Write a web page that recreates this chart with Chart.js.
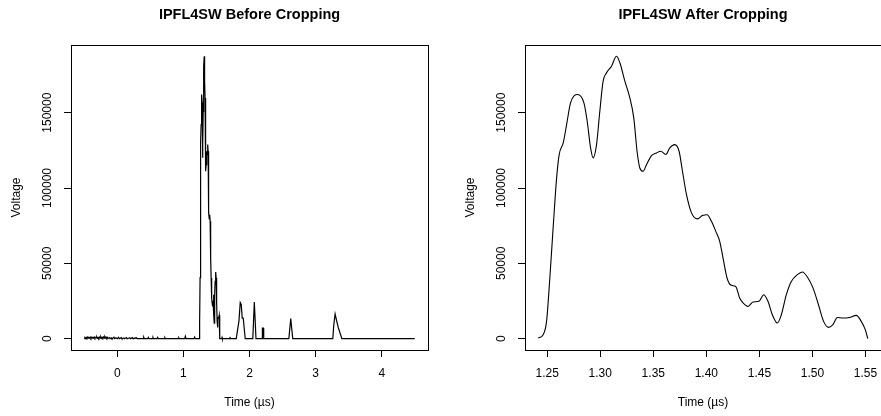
<!DOCTYPE html>
<html>
<head>
<meta charset="utf-8">
<title>IPFL4SW</title>
<script src="https://cdn.jsdelivr.net/npm/chart.js@4.4.0/dist/chart.umd.min.js"></script>
<style>
  body { margin: 0; background: #fff; }
  #wrap { position: relative; width: 881px; height: 416px; overflow: hidden; }
  canvas { position: absolute; top: 0; }
</style>
</head>
<body>
<div id="wrap">
  <canvas id="before" width="440" height="416" style="left:0"></canvas>
  <canvas id="after" width="441" height="416" style="left:440px"></canvas>
</div>
<script>
// Tick labels
const beforeTicksX = [0, 1, 2, 3, 4];
const afterTicksX = [1.25, 1.30, 1.35, 1.40, 1.45, 1.50, 1.55];
const voltTicks = [0, 50000, 100000, 150000];

// Noise before the pulse (time in µs, voltage)
const preTime = [-0.50, -0.49, -0.48, -0.47, -0.46, -0.45, -0.44, -0.43, -0.42, -0.41, -0.40, -0.39,
  -0.38, -0.37, -0.36, -0.35, -0.34, -0.33, -0.32, -0.31, -0.30, -0.29, -0.28, -0.27, -0.26, -0.25,
  -0.24, -0.23, -0.22, -0.21, -0.20, -0.19, -0.18, -0.17, -0.16, -0.15, -0.14, -0.12, -0.11, -0.09,
  -0.08, -0.05, -0.04, -0.02, 0.00, 0.02, 0.03, 0.06, 0.07, 0.10, 0.11, 0.14, 0.15, 0.19, 0.20,
  0.23, 0.24, 0.29, 0.30, 0.39, 0.40, 0.41, 0.46, 0.47, 0.48, 0.53, 0.54, 0.55, 0.60, 0.61, 0.62,
  0.71, 0.72, 0.73, 0.92, 0.93, 0.94, 1.02, 1.03, 1.04, 1.16, 1.17, 1.18, 1.24];
const preVolt = [0, 700, 200, 900, 300, 1000, 300, 800, 400, 1100, 200, 900,
  300, 800, 400, 1100, 300, 900, 500, 1200, 300, 800, 200, 1000, 400, 1300,
  300, 1000, 400, 1100, 300, 1300, 400, 1100, 300, 900, 200, 800, 0, 600,
  0, 1000, 0, 600, 0, 900, 0, 700, 0, 500, 0, 800, 0, 600, 0,
  700, 0, 600, 0, 0, 1000, 0, 0, 900, 0, 0, 900, 0, 0, 900, 0,
  0, 800, 0, 0, 700, 0, 0, 1600, 0, 0, 1100, 0, 0];

// Main pulse (the cropped window)
const pulseTime = [1.2415, 1.2462, 1.2494, 1.2525, 1.2556, 1.2589, 1.2613, 1.2651, 1.2683, 1.2720,
  1.2786, 1.2846, 1.2877, 1.2909, 1.2933, 1.2965, 1.2996, 1.3027, 1.3059, 1.3106, 1.3153, 1.3185,
  1.3232, 1.3279, 1.3316, 1.3347, 1.3373, 1.3404, 1.3436, 1.3483, 1.3530, 1.3571, 1.3618, 1.3655,
  1.3702, 1.3743, 1.3775, 1.3813, 1.3860, 1.3916, 1.3963, 1.4007, 1.4048, 1.4089, 1.4126, 1.4157,
  1.4195, 1.4236, 1.4277, 1.4314, 1.4346, 1.4393, 1.4440, 1.4496, 1.4541, 1.4581, 1.4622, 1.4669,
  1.4707, 1.4754, 1.4801, 1.4858, 1.4905, 1.4958, 1.5005, 1.5052, 1.5105, 1.5153, 1.5193, 1.5235,
  1.5287, 1.5350, 1.5413, 1.5460, 1.5498, 1.5522];
const pulseVolt = [500, 2700, 11500, 40500, 73700, 106900, 122200, 129900, 142100, 156500,
  162000, 156500, 144300, 126600, 120000, 128800, 150900, 170900, 176400, 180800, 187400, 183100,
  170900, 159800, 146500, 124400, 113300, 111100, 115500, 121500, 123300, 124400, 122200, 126600,
  128800, 124400, 111100, 95600, 83500, 79500, 81700, 82300, 77900, 71200, 64600, 53600,
  40300, 35400, 34700, 27000, 23700, 21400, 24400, 24800, 29200, 24800, 15900, 10400,
  15900, 29200, 38000, 42500, 44300, 40300, 33700, 23700, 11500, 7500, 9300, 14100,
  13700, 14100, 15500, 11500, 6000, 0];

// Echoes after the pulse
const postTime = [1.56, 1.58, 1.585, 1.59, 1.70, 1.705, 1.71, 1.80, 1.82, 1.84, 1.86, 1.875, 1.89,
  1.905, 1.935, 2.05, 2.073, 2.098, 2.19, 2.195, 2.21, 2.215, 2.595, 2.624, 2.654,
  3.26, 3.275, 3.295, 3.32, 3.345, 3.397, 4.50];
const postVolt = [0, 0, 800, 0, 0, 1200, 0, 0, 6000, 11500, 24100, 22800, 13700,
  13700, 0, 0, 24300, 0, 0, 7000, 7000, 0, 0, 13300, 0,
  0, 9300, 16400, 11500, 7100, 0, 0];

const FONT = '"Liberation Sans", Arial, Helvetica, sans-serif';

function toPoints(xs, ys) {
  return xs.map((x, i) => ({ x, y: ys[i] }));
}

// R style range: data range plus 4% each side
function rRange(values) {
  const lo = Math.min(...values), hi = Math.max(...values);
  const pad = (hi - lo) * 0.04;
  return { min: lo - pad, max: hi + pad };
}

// Box, title, rotated y labels and axis titles, drawn the way base R does
const rFrame = {
  id: "rFrame",
  afterDraw(chart, args, opts) {
    const { ctx, chartArea: a, scales } = chart;
    ctx.save();
    ctx.strokeStyle = "#000";
    ctx.lineWidth = 1;
    ctx.strokeRect(Math.round(a.left) + 0.5, Math.round(a.top) + 0.5,
      Math.round(a.right - a.left), Math.round(a.bottom - a.top));

    ctx.fillStyle = "#000";
    ctx.textAlign = "center";
    const cx = (a.left + a.right) / 2;

    ctx.font = "bold 14.5px " + FONT;
    ctx.textBaseline = "alphabetic";
    ctx.fillText(opts.title, cx, 19);

    ctx.font = "12px " + FONT;
    ctx.textBaseline = "middle";
    ctx.fillText("Time (\u00b5s)", cx, 403);

    voltTicks.forEach((v) => {
      const y = scales.y.getPixelForValue(v);
      ctx.save();
      ctx.translate(a.left - 23, y);
      ctx.rotate(-Math.PI / 2);
      ctx.fillText(String(v), 0, 0);
      ctx.restore();
    });

    ctx.save();
    ctx.translate(a.left - 54, (a.top + a.bottom) / 2);
    ctx.rotate(-Math.PI / 2);
    ctx.fillText("Voltage", 0, 0);
    ctx.restore();
    ctx.restore();
  },
};

function makeChart(id, opts) {
  const xr = rRange(opts.times);
  const yr = rRange(opts.volts);
  return new Chart(document.getElementById(id), {
    type: "line",
    data: {
      datasets: [{
        data: toPoints(opts.times, opts.volts),
        borderColor: "#000",
        borderWidth: opts.lineWidth,
        pointRadius: 0,
        fill: false,
        tension: opts.smooth ? 0.4 : 0,
        cubicInterpolationMode: opts.smooth ? "monotone" : "default",
      }],
    },
    options: {
      responsive: false,
      animation: false,
      events: [],
      layout: { padding: { top: 45, right: opts.padRight, bottom: 0, left: 0 } },
      plugins: {
        legend: { display: false },
        tooltip: { enabled: false },
        rFrame: { title: opts.title },
      },
      scales: {
        x: {
          type: "linear",
          min: xr.min,
          max: xr.max,
          afterBuildTicks: (s) => { s.ticks = opts.ticksX.map((value) => ({ value })); },
          afterFit: (s) => { s.height = 66; s.paddingLeft = 0; s.paddingRight = 0; },
          ticks: {
            color: "#000",
            padding: 9,
            maxRotation: 0,
            font: { family: FONT, size: 12 },
            callback: (v) => opts.fmt(v),
          },
          grid: { drawOnChartArea: false, drawTicks: true, tickLength: 7, color: "#000" },
          border: { display: false },
        },
        y: {
          type: "linear",
          min: yr.min,
          max: yr.max,
          afterBuildTicks: (s) => { s.ticks = voltTicks.map((value) => ({ value })); },
          afterFit: (s) => { s.width = opts.yWidth; s.paddingTop = 0; s.paddingBottom = 0; },
          ticks: { display: false },
          grid: { drawOnChartArea: false, drawTicks: true, tickLength: 7, color: "#000" },
          border: { display: false },
        },
      },
    },
    plugins: [rFrame],
  });
}

makeChart("before", {
  title: "IPFL4SW Before Cropping",
  times: [...preTime, ...pulseTime, ...postTime],
  volts: [...preVolt, ...pulseVolt, ...postVolt],
  ticksX: beforeTicksX,
  fmt: (v) => String(v),
  yWidth: 71,
  padRight: 12,
  lineWidth: 1.2,
  smooth: false,
});

makeChart("after", {
  title: "IPFL4SW After Cropping",
  times: pulseTime,
  volts: pulseVolt,
  ticksX: afterTicksX,
  fmt: (v) => v.toFixed(2),
  yWidth: 85,
  padRight: 0,
  lineWidth: 1.1,
  smooth: true,
});
</script>
</body>
</html>
